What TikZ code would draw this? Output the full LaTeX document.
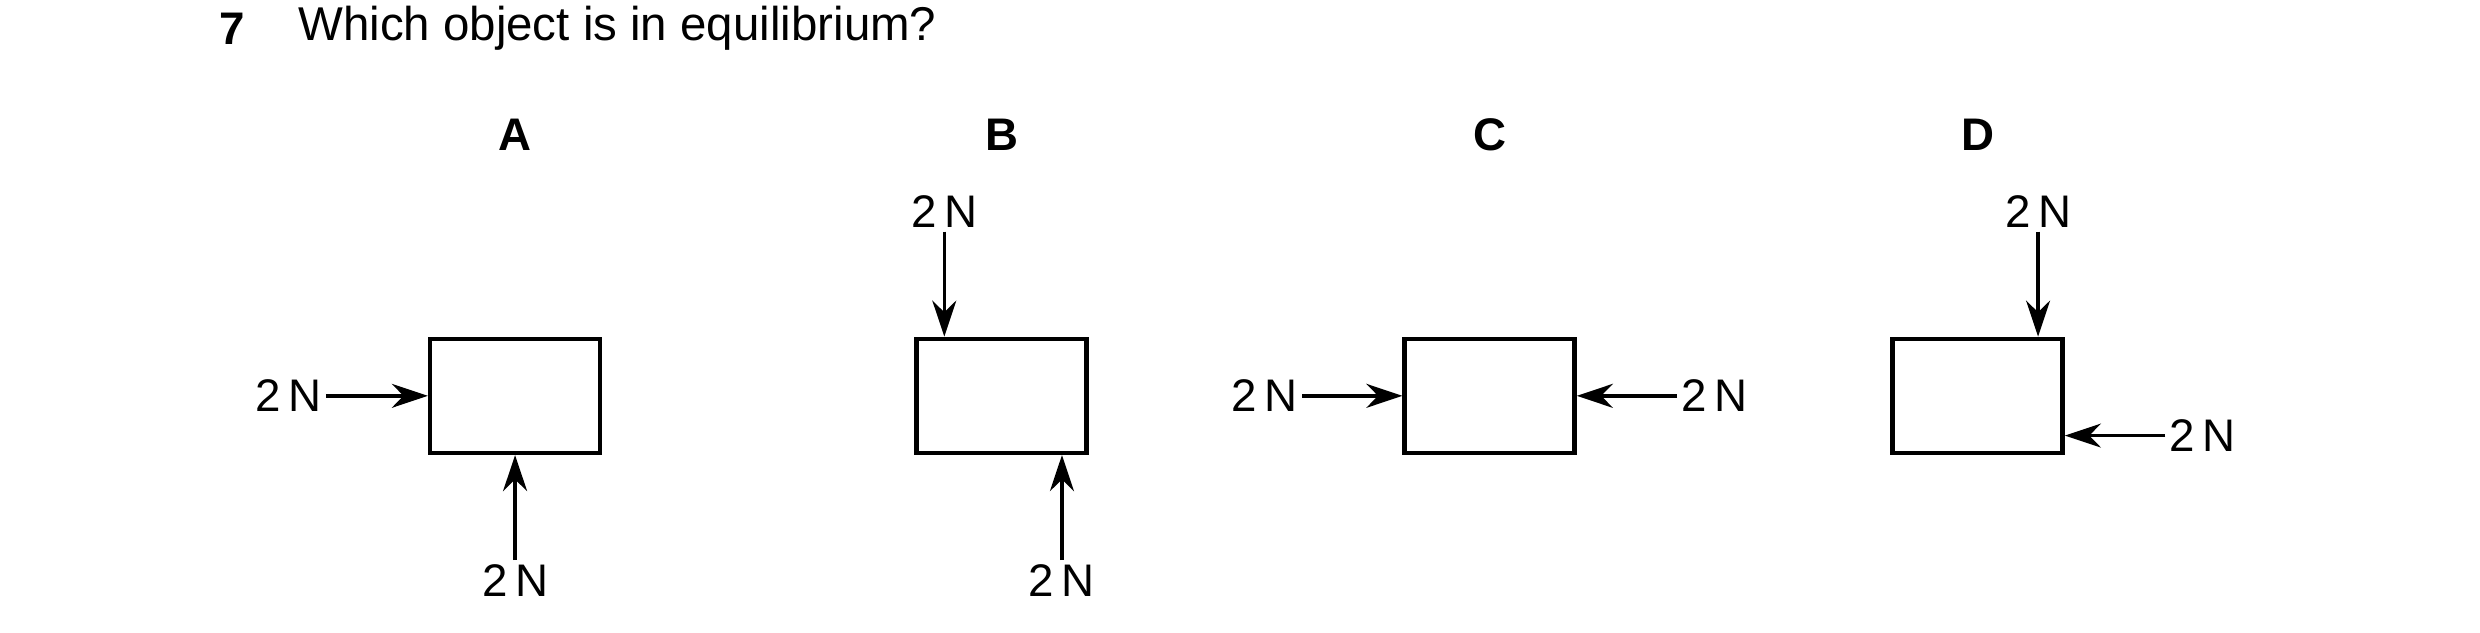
\documentclass[tikz,border=0pt]{standalone}
\usepackage{fontspec}
\setmainfont{Liberation Sans}
\usetikzlibrary{arrows.meta}
\begin{document}
\begin{tikzpicture}[x=0.159mm,y=-0.159mm,
  body/.style={draw,line width=1.3pt,minimum width=17mm,minimum height=11.4mm,inner sep=0pt},
  force/.style={line width=1pt,-{Stealth[length=3.6mm,width=2.4mm]}},
  lbl/.style={font=\fontsize{13}{15}\selectfont,inner sep=1pt},
  head/.style={font=\bfseries\fontsize{13}{15}\selectfont}]
\useasboundingbox (0,0) rectangle (1560,398);
\node [head,anchor=west] (num) at (130,18) {7};
\node [lbl,anchor=west,font=\fontsize{13.5}{15}\selectfont] (q) at (185,18) {Which object is in equilibrium?};
% A
\node [head] (la) at (324,85) {A};
\node [body] (boxa) at (324,249) {};
\node [lbl,anchor=east] (fa1) at (205,249) {2\,N};
\node [lbl] (fa2) at (324,365) {2\,N};
\draw [force] (fa1.east) -- (boxa.west);
\draw [force] (fa2.north) -- (boxa.south);
% B
\node [head] (lb) at (630,85) {B};
\node [body] (boxb) at (630,249) {};
\node [lbl] (fb1) at (594,133) {2\,N};
\node [lbl] (fb2) at (668,365) {2\,N};
\draw [force] (fb1.south) -- (boxb.north -| fb1);
\draw [force] (fb2.north) -- (boxb.south -| fb2);
% C
\node [head] (lc) at (937,85) {C};
\node [body] (boxc) at (937,249) {};
\node [lbl,anchor=east] (fc1) at (819,249) {2\,N};
\node [lbl,anchor=west] (fc2) at (1055,249) {2\,N};
\draw [force] (fc1.east) -- (boxc.west);
\draw [force] (fc2.west) -- (boxc.east);
% D
\node [head] (ld) at (1244,85) {D};
\node [body] (boxd) at (1244,249) {};
\node [lbl] (fd1) at (1282,133) {2\,N};
\node [lbl,anchor=west] (fd2) at (1362,274) {2\,N};
\draw [force] (fd1.south) -- (boxd.north -| fd1);
\draw [force] (fd2.west) -- (boxd.east |- fd2);
\end{tikzpicture}
\end{document}
